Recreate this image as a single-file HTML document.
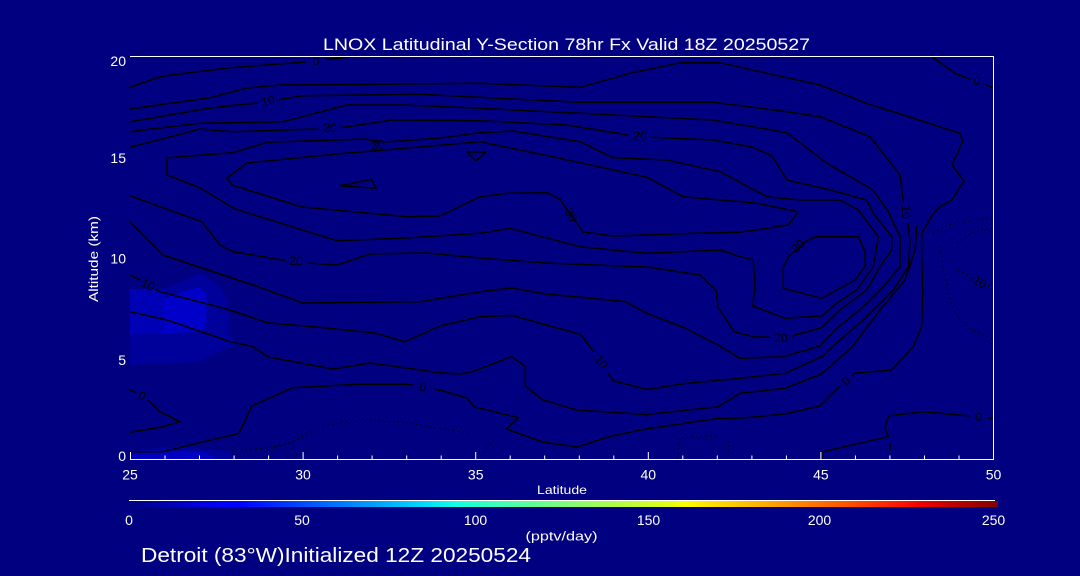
<!DOCTYPE html>
<html>
<head>
<meta charset="utf-8">
<style>
  html, body { margin: 0; padding: 0; background: #000080; }
  body { width: 1080px; height: 576px; overflow: hidden; }
  svg { display: block; }
  .w { fill: #ffffff; font-family: "Liberation Sans", sans-serif; }
  .c { fill: none; stroke: #000000; stroke-width: 1.5; stroke-linejoin: round; }
  .d { fill: none; stroke: #000000; stroke-width: 1.2; stroke-dasharray: 1.2 3.5; }
  .lb { fill: #000000; font-family: "Liberation Sans", sans-serif; font-size: 12px; text-anchor: middle; dominant-baseline: central; }
</style>
</head>
<body>
<svg width="1080" height="576" viewBox="0 0 1080 576" xmlns="http://www.w3.org/2000/svg">
  <defs>
    <linearGradient id="jet" x1="0" y1="0" x2="1" y2="0">
      <stop offset="0" stop-color="#000080"/>
      <stop offset="0.11" stop-color="#0000ff"/>
      <stop offset="0.125" stop-color="#0000ff"/>
      <stop offset="0.34" stop-color="#00dcff"/>
      <stop offset="0.375" stop-color="#14ffe3"/>
      <stop offset="0.5" stop-color="#7dff7a"/>
      <stop offset="0.625" stop-color="#e6ff10"/>
      <stop offset="0.64" stop-color="#ffff00"/>
      <stop offset="0.66" stop-color="#ffea00"/>
      <stop offset="0.75" stop-color="#ff9a00"/>
      <stop offset="0.89" stop-color="#ff1400"/>
      <stop offset="0.91" stop-color="#f00000"/>
      <stop offset="1" stop-color="#800000"/>
    </linearGradient>
  </defs>

  <rect x="0" y="0" width="1080" height="576" fill="#000080"/>

  <!-- filled patches -->
  <polygon points="130,289 165,289 200,273 221,287 228,303 230,333 235,345 198,362 130,365" fill="#00009a"/>
  <polygon points="130,289 165,289 165,334 130,334" fill="#0000b4"/>
  <polygon points="164,298 200,286.7 206.5,293.3 206.5,323 201.7,331.7 164,333.3" fill="#0000c8"/>
  <polygon points="130,451.7 163,446.7 197,448.3 232,451.7 232,460 130,460" fill="#00009a"/>
  <polygon points="130,454.3 167,450.7 203,451.7 213,456.7 215,460 130,460" fill="#0000c0"/>

  <!-- solid contours -->
  <polyline class="c" points="130,87 163,76 230,67.7 306,62"/>
  <polyline class="c" points="326,59.5 350,57"/>

  <polyline class="c" points="130,109 210,97.7 247,88 280,85 407,84 480,83.3 520,85 580,87.3 630,73.3 680,62.7 720,62.7 766.7,73.3 820,85 866.7,103.3 960,133.3 962.8,141 952,165 964,181 951.7,200 940,206.7 933.3,213.3 921.7,233.3 921.7,256.7 922.7,293.3 921.7,326.7 913.3,346.7 891.7,370 855,373.3 852,376"/>
  <polyline class="c" points="840,386 820,406 785,414 746,417.7 715,418.7 646,429 611.5,436 577,447 542.6,442 506.5,429 518.5,417.7 473.8,406.7 467,398 443,391 433,389"/>
  <polyline class="c" points="413,385 405,384.3 360,384.3 293,387.7 251.7,406 239,433.3 197,443.3 163,451.7 130,451.7"/>

  <polyline class="c" points="130,121.7 210,108 258,103"/>
  <polyline class="c" points="277,100 303,95.7 420,94.3 480,97.3 580,102.3 713,102.3 787,111.7 820,116.7 870,136.7 900,175 903.3,202"/>
  <polyline class="c" points="908,223 910,243.3 908.3,266.7 893.3,290 866.7,316.7 840,340 821.7,356.7 785,373.3 740,378.3 683.8,383.6 647.7,389.5 613.2,380.9 608,373"/>
  <polyline class="c" points="594,352 580.5,334.4 511.7,315.4 480,316.7 440,326 405,341.7 373,332.7 313,326.7 267,322.7 230,310 160,291.7 155,289"/>
  <polyline class="c" points="140,280 130,275"/>

  <polyline class="c" points="130,131.7 170,126.7 200,123.3 283,121.7 347,105 403,105 480,108.3 580,113.3 713,120 787,132.7 827,163.3 873,190 888.3,211.7 900,236.7 900,266.7 883.3,286.7 863.3,306.7 836.7,328.3 820,346 783.3,356.7 740,358.3 718,345 683.8,327.5 647.7,313.7 625,301.6 546,294 511.7,288 480,291.7 420,301.7 303,303 253,285 163,255 130,221.7"/>

  <polyline class="c" points="130,195.7 160,206.7 201.7,221.7 220,245 233,251.7 285,260.5"/>
  <polyline class="c" points="307,263 337,265 370,254 427,253 480,258 546,263 647,267 700,275 716.5,291 718,307 734,331.6 753.3,336.7 770,337.3"/>
  <polyline class="c" points="792,336 821.7,327.7 840,310 866.7,290 880,266.7 891.7,250 891.7,236.7 873.3,213.3 866.7,200 830,190 787,180 772,156 753,147.3 713,140 652,137.3"/>
  <polyline class="c" points="628,135 567,125 480,120.7 393,120 342,127.5"/>
  <polyline class="c" points="318,129 233,131.7 200,129 130,147.3"/>

  <polyline class="c" points="130,311.7 167,320 230,341.7 253,346.7 268,357 333,369 370,363 440,372.7 460,374 473.8,371.2 511.7,356.7 525.4,366.4 525.4,386 542.6,399.8 577,410 646,414.6 718.3,406.7 740,393.3 785,388.3 821.6,374 852.6,346.4 880,310 905,280 915,250 917,225"/>

  <polygon class="c" points="167,157.7 233,152.7 267,142.3 367,139 369,140 387,142 440,138 480,132.7 513,131 580,141.7 613,157.7 667,160 720,171.7 767,196.7 800,200 840,200 858.3,210 878.3,236.7 873.3,266.7 856.7,290 836.7,303.3 821.7,316 785,318.3 752.7,306 755,286.7 753.3,260 740,256.7 720,250 647,253.3 580,246.7 510,228.3 480,233.3 407,238 337,240.7 235,209 200,188 167,175"/>

  <polygon class="c" points="227,178 247,163 337,154 420,147 480,141.7 560,158.3 647,177.3 683,196.7 757,203.3 798,211.7 788.3,225 740,232.3 697,233.3 613,236 583,232 560,199.3 547,192.7 507,193.3 480,196.7 440,216 407,216.7 302,207 232,185"/>

  <polygon class="c" points="783.3,266.7 783.3,288.3 821.7,298.3 855,280 865,266.7 865,251.7 858.3,236.7 816.7,236.7 808,240 790,255"/>

  <polyline class="c" points="130,390 136,392.5"/>
  <polyline class="c" points="148,400 160,411.7 180,421.7 163,426.7 130,432.3"/>

  <polygon class="c" points="340,185.7 371.7,179.3 376,188.3"/>
  <polygon class="c" points="467,152 486,152 476,161"/>

  <polyline class="c" points="932,57 956,74 970,79"/>
  <polyline class="c" points="985,84.5 994,88"/>

  <polyline class="c" points="823,459 823,451.7 888.3,436.7 885,428.3 888.3,416 923.3,411.7 970,416"/>
  <polyline class="c" points="988,418 994,418.3"/>
  <polyline class="c" points="890,444 890,451"/>

  <!-- dotted contours -->
  <polyline class="d" points="933,233 947,225 973,220 994,218"/>
  <polyline class="d" points="957,243 973,232 994,228"/>
  <polyline class="d" points="940,247 943,267 950,300 957,317 973,330 994,340"/>
  <polyline class="d" points="958,270 970,276"/>
  <polyline class="d" points="988,286 994,288"/>
  <polyline class="d" points="677,459 680,437.7 716.5,436"/>
  <polyline class="d" points="728.6,441 728.6,459"/>
  <polyline class="d" points="267,450 293,441.7 320,426.7 347,421.7 373,421 405,422.3 433,427.7 468,432.7"/>
  <polyline class="d" points="232,450 267,448 293,442.7"/>
  <polyline class="d" points="287,456.7 310,451.7"/>
  <polyline class="d" points="484,452 493,441"/>

  <!-- contour labels -->
  <text class="lb" x="316" y="61">0</text>
  <text class="lb" x="268" y="101" transform="rotate(-12 268 101)">10</text>
  <text class="lb" x="330" y="128">20</text>
  <text class="lb" x="378" y="145" transform="rotate(-8 378 145)">30</text>
  <text class="lb" x="640" y="136" transform="rotate(3 640 136)">20</text>
  <text class="lb" x="571" y="215" transform="rotate(62 571 215)">30</text>
  <text class="lb" x="906" y="212" transform="rotate(90 906 212)">10</text>
  <text class="lb" x="798" y="246" transform="rotate(-40 798 246)">30</text>
  <text class="lb" x="781" y="338">20</text>
  <text class="lb" x="846" y="381" transform="rotate(-45 846 381)">0</text>
  <text class="lb" x="423" y="387" transform="rotate(10 423 387)">0</text>
  <text class="lb" x="601" y="362" transform="rotate(55 601 362)">10</text>
  <text class="lb" x="296" y="261" transform="rotate(3 296 261)">20</text>
  <text class="lb" x="148" y="285" transform="rotate(28 148 285)">10</text>
  <text class="lb" x="142" y="396" transform="rotate(30 142 396)">0</text>
  <text class="lb" x="977" y="81" transform="rotate(15 977 81)">0</text>
  <text class="lb" x="979" y="417">0</text>
  <text class="lb" x="978" y="281" transform="rotate(30 978 281)">-10</text>

  <!-- frame (no left line) -->
  <line x1="130" y1="56.5" x2="994" y2="56.5" stroke="#ffffff" stroke-width="1"/>
  <line x1="993.5" y1="56" x2="993.5" y2="460" stroke="#ffffff" stroke-width="1"/>
  <line x1="130" y1="459.5" x2="994" y2="459.5" stroke="#ffffff" stroke-width="1"/>

  <!-- x ticks -->
  <g stroke="#ffffff" stroke-width="1">
    <line x1="130.5" y1="459" x2="130.5" y2="452"/>
    <line x1="165.0" y1="459" x2="165.0" y2="455.5"/>
    <line x1="199.5" y1="459" x2="199.5" y2="455.5"/>
    <line x1="234.1" y1="459" x2="234.1" y2="455.5"/>
    <line x1="268.6" y1="459" x2="268.6" y2="455.5"/>
    <line x1="303.1" y1="459" x2="303.1" y2="452"/>
    <line x1="337.6" y1="459" x2="337.6" y2="455.5"/>
    <line x1="372.1" y1="459" x2="372.1" y2="455.5"/>
    <line x1="406.7" y1="459" x2="406.7" y2="455.5"/>
    <line x1="441.2" y1="459" x2="441.2" y2="455.5"/>
    <line x1="475.7" y1="459" x2="475.7" y2="452"/>
    <line x1="510.2" y1="459" x2="510.2" y2="455.5"/>
    <line x1="544.7" y1="459" x2="544.7" y2="455.5"/>
    <line x1="579.3" y1="459" x2="579.3" y2="455.5"/>
    <line x1="613.8" y1="459" x2="613.8" y2="455.5"/>
    <line x1="648.3" y1="459" x2="648.3" y2="452"/>
    <line x1="682.8" y1="459" x2="682.8" y2="455.5"/>
    <line x1="717.3" y1="459" x2="717.3" y2="455.5"/>
    <line x1="751.9" y1="459" x2="751.9" y2="455.5"/>
    <line x1="786.4" y1="459" x2="786.4" y2="455.5"/>
    <line x1="820.9" y1="459" x2="820.9" y2="452"/>
    <line x1="855.4" y1="459" x2="855.4" y2="455.5"/>
    <line x1="889.9" y1="459" x2="889.9" y2="455.5"/>
    <line x1="924.5" y1="459" x2="924.5" y2="455.5"/>
    <line x1="959.0" y1="459" x2="959.0" y2="455.5"/>
  </g>

  <!-- title -->
  <text class="w" x="323" y="50" font-size="17" textLength="487" lengthAdjust="spacingAndGlyphs">LNOX Latitudinal Y-Section 78hr  Fx Valid 18Z 20250527</text>

  <!-- y tick labels -->
  <g class="w" font-size="14" text-anchor="end">
    <text x="126" y="66">20</text>
    <text x="126" y="163">15</text>
    <text x="126" y="263.5">10</text>
    <text x="126" y="365">5</text>
    <text x="126" y="461">0</text>
  </g>

  <!-- y axis title -->
  <text class="w" x="0" y="0" font-size="13" text-anchor="middle" textLength="86" lengthAdjust="spacingAndGlyphs" transform="translate(98,259) rotate(-90)">Altitude (km)</text>

  <!-- x tick labels -->
  <g class="w" font-size="14" text-anchor="middle">
    <text x="130" y="479.5">25</text>
    <text x="303" y="479.5">30</text>
    <text x="475.7" y="479.5">35</text>
    <text x="648.3" y="479.5">40</text>
    <text x="820.9" y="479.5">45</text>
    <text x="993.5" y="479.5">50</text>
  </g>
  <text class="w" x="537" y="494" font-size="12" textLength="50" lengthAdjust="spacingAndGlyphs">Latitude</text>

  <!-- colorbar -->
  <line x1="129" y1="500.5" x2="995" y2="500.5" stroke="#ffffff" stroke-width="1"/>
  <rect x="130" y="501" width="868" height="6" fill="url(#jet)"/>
  <g class="w" font-size="14" text-anchor="middle">
    <text x="129" y="525">0</text>
    <text x="302" y="525">50</text>
    <text x="475.5" y="525">100</text>
    <text x="648.5" y="525">150</text>
    <text x="819.5" y="525">200</text>
    <text x="993.5" y="525">250</text>
  </g>
  <text class="w" x="525.5" y="540.5" font-size="13" textLength="72" lengthAdjust="spacingAndGlyphs">(pptv/day)</text>

  <!-- footer -->
  <text class="w" x="141" y="562" font-size="20" textLength="390" lengthAdjust="spacingAndGlyphs">Detroit (83°W)Initialized 12Z 20250524</text>
</svg>
</body>
</html>
